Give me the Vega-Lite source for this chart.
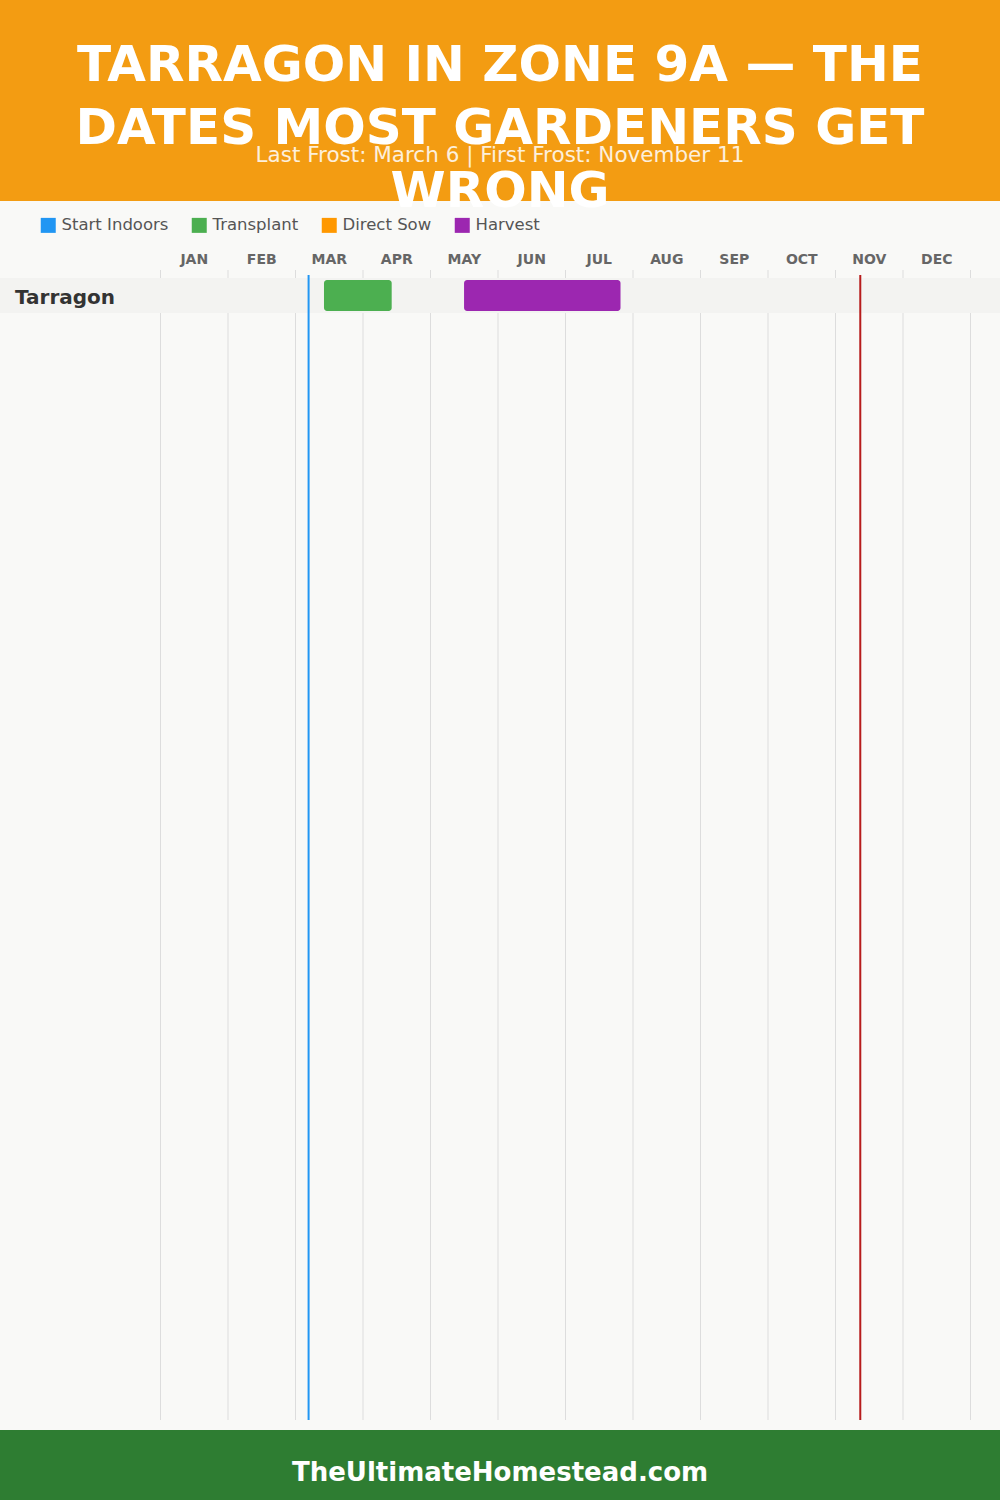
{
  "$schema": "https://vega.github.io/schema/vega-lite/v6.json",
  "width": 1000,
  "height": 1500,
  "autosize": {"type": "fit", "contains": "padding"},
  "padding": 0,
  "background": "#f9f9f7",
  "config": {"view": {"stroke": null}, "font": "DejaVu Sans"},
  "datasets": {
    "months": [
      {"month": "JAN", "start": 0, "mid": 0.5},
      {"month": "FEB", "start": 1, "mid": 1.5},
      {"month": "MAR", "start": 2, "mid": 2.5},
      {"month": "APR", "start": 3, "mid": 3.5},
      {"month": "MAY", "start": 4, "mid": 4.5},
      {"month": "JUN", "start": 5, "mid": 5.5},
      {"month": "JUL", "start": 6, "mid": 6.5},
      {"month": "AUG", "start": 7, "mid": 7.5},
      {"month": "SEP", "start": 8, "mid": 8.5},
      {"month": "OCT", "start": 9, "mid": 9.5},
      {"month": "NOV", "start": 10, "mid": 10.5},
      {"month": "DEC", "start": 11, "mid": 11.5}
    ],
    "frost": [
      {"event": "Last Frost", "date": "March 6", "pos": 2.194},
      {"event": "First Frost", "date": "November 11", "pos": 10.367}
    ],
    "crops": [{"crop": "Tarragon"}],
    "tasks": [
      {"crop": "Tarragon", "task": "Transplant", "start": 2.422, "end": 3.425},
      {"crop": "Tarragon", "task": "Harvest", "start": 4.497, "end": 6.815}
    ]
  },
  "layer": [
    {
      "data": {"values": [{}]},
      "mark": {"type": "rect", "color": "#F39C12"},
      "encoding": {
        "y": {"datum": 0, "type": "quantitative", "scale": {"domain": [0, 1500], "reverse": true, "nice": false, "zero": false}, "axis": null},
        "y2": {"datum": 201}
      }
    },
    {
      "data": {"values": [{}]},
      "mark": {"type": "rect", "color": "#2E7D32"},
      "encoding": {
        "y": {"datum": 1430, "type": "quantitative"},
        "y2": {"datum": 1500}
      }
    },
    {
      "data": {"name": "months"},
      "mark": {"type": "rule", "color": "#dddddd", "strokeWidth": 1},
      "encoding": {
        "x": {"field": "start", "type": "quantitative", "scale": {"domain": [-2.3778, 12.437], "nice": false, "zero": false}, "axis": null},
        "y": {"datum": 270, "type": "quantitative"},
        "y2": {"datum": 1420}
      }
    },
    {
      "data": {"values": [{}]},
      "mark": {"type": "rule", "color": "#dddddd", "strokeWidth": 1},
      "encoding": {
        "x": {"datum": 12, "type": "quantitative"},
        "y": {"datum": 270, "type": "quantitative"},
        "y2": {"datum": 1420}
      }
    },
    {
      "data": {"name": "crops"},
      "mark": {"type": "rect", "color": "#f3f3f1"},
      "encoding": {
        "y": {"datum": 278, "type": "quantitative"},
        "y2": {"datum": 313}
      }
    },
    {
      "data": {"name": "frost"},
      "mark": {"type": "rule", "strokeWidth": 2},
      "encoding": {
        "x": {"field": "pos", "type": "quantitative"},
        "y": {"datum": 275, "type": "quantitative"},
        "y2": {"datum": 1420},
        "stroke": {"field": "event", "type": "nominal", "scale": {"domain": ["Last Frost", "First Frost"], "range": ["#2196F3", "#B71C1C"]}, "legend": null}
      }
    },
    {
      "data": {"name": "tasks"},
      "mark": {"type": "rect", "cornerRadius": 3},
      "encoding": {
        "x": {"field": "start", "type": "quantitative"},
        "x2": {"field": "end"},
        "y": {"datum": 280, "type": "quantitative"},
        "y2": {"datum": 311},
        "color": {
          "field": "task", "type": "nominal",
          "scale": {"domain": ["Start Indoors", "Transplant", "Direct Sow", "Harvest"], "range": ["#2196F3", "#4CAF50", "#FF9800", "#9C27B0"]},
          "legend": {
            "title": null, "orient": "none", "legendX": 40, "legendY": 217, "direction": "horizontal", "columns": 4,
            "padding": 0, "symbolType": "square", "symbolSize": 225, "symbolStrokeWidth": 0, "symbolOpacity": 1,
            "labelFontSize": 16.5, "labelColor": "#555555", "labelOffset": 5, "columnPadding": 22, "labelFont": "DejaVu Sans"
          }
        }
      }
    },
    {
      "data": {"name": "months"},
      "mark": {"type": "text", "fontWeight": "bold", "fontSize": 14, "color": "#666666", "baseline": "alphabetic", "align": "center"},
      "encoding": {
        "x": {"field": "mid", "type": "quantitative"},
        "y": {"datum": 264, "type": "quantitative"},
        "text": {"field": "month"}
      }
    },
    {
      "data": {"name": "crops"},
      "mark": {"type": "text", "fontWeight": "bold", "fontSize": 20, "color": "#333333", "baseline": "alphabetic", "align": "left"},
      "encoding": {
        "x": {"datum": -2.1556, "type": "quantitative"},
        "y": {"datum": 304, "type": "quantitative"},
        "text": {"field": "crop"}
      }
    },
    {
      "data": {"values": [{}]},
      "mark": {"type": "text", "fontSize": 21.5, "color": "#ffffff", "opacity": 0.85, "fontWeight": "normal", "baseline": "alphabetic", "align": "center"},
      "encoding": {
        "y": {"datum": 162, "type": "quantitative"},
        "text": {"value": "Last Frost: March 6 | First Frost: November 11"}
      }
    },
    {
      "data": {"values": [{}]},
      "mark": {"type": "text", "fontWeight": "bold", "fontSize": 50, "lineHeight": 63, "color": "#ffffff", "baseline": "alphabetic", "align": "center"},
      "encoding": {
        "y": {"datum": 81, "type": "quantitative"},
        "text": {"value": ["TARRAGON IN ZONE 9A — THE", "DATES MOST GARDENERS GET", "WRONG"]}
      }
    },
    {
      "data": {"values": [{}]},
      "mark": {"type": "text", "fontWeight": "bold", "fontSize": 26, "color": "#ffffff", "baseline": "alphabetic", "align": "center"},
      "encoding": {
        "y": {"datum": 1481, "type": "quantitative"},
        "text": {"value": "TheUltimateHomestead.com"}
      }
    }
  ]
}
